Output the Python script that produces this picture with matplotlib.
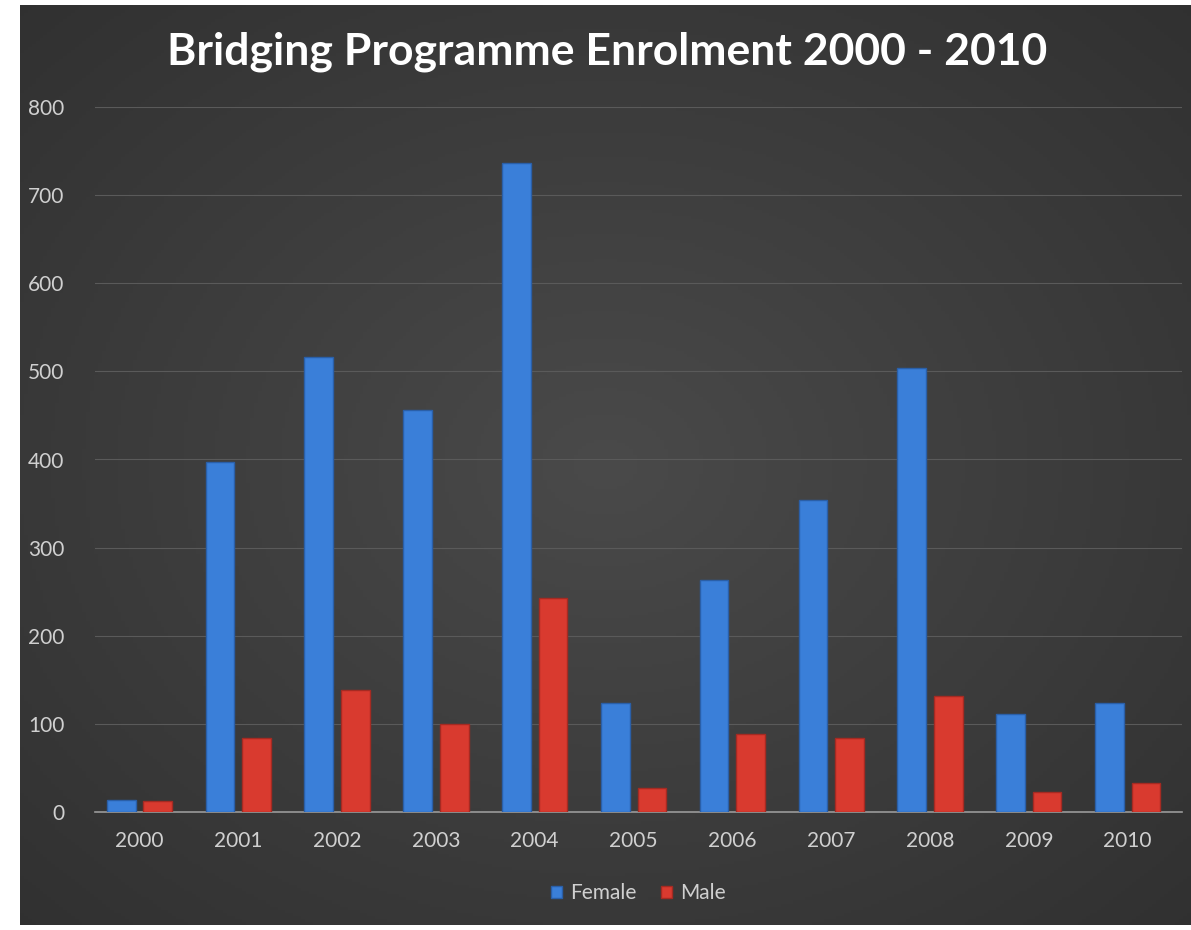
import matplotlib.pyplot as plt
import numpy as np

years = ["2000", "2001", "2002", "2003", "2004", "2005", "2006", "2007", "2008", "2009", "2010"]
female = [14, 397, 516, 456, 737, 124, 263, 354, 504, 111, 124]
male = [12, 84, 138, 100, 243, 27, 88, 84, 132, 23, 33]
yticks = [0, 100, 200, 300, 400, 500, 600, 700, 800]

plt.rcParams['font.family'] = ['Lato', 'DejaVu Sans']

W, H = 1191, 930
fig = plt.figure(figsize=(W / 100, H / 100), dpi=100)
fig.patch.set_facecolor("white")

# dark panel with soft radial gradient
bg = fig.add_axes([20 / W, 5 / H, (W - 20) / W, 920 / H])
yy, xx = np.mgrid[-1:1:300j, -1:1:300j]
r = np.sqrt(xx ** 2 + yy ** 2)
grad = np.clip(0.29 - 0.07 * r, 0, 1)
bg.imshow(np.dstack([grad, grad, grad]), aspect="auto", extent=[0, 1, 0, 1])
bg.set_axis_off()

ax = fig.add_axes([95 / W, (H - 812) / H, 1087 / W, 705 / H])
ax.set_facecolor("none")
x = np.arange(len(years))
w = 0.29
off = 0.185
ax.bar(x - off, female, w, color="#3a7fd9", edgecolor="#2a5fa8", linewidth=1.0, zorder=3, label="Female")
ax.bar(x + off, male, w, color="#d93a2f", edgecolor="#a52a22", linewidth=1.0, zorder=3, label="Male")

ax.set_xlim(-0.45, 10.55)
ax.set_ylim(0, 800)
ax.set_yticks(yticks)
ax.set_xticks(x)
ax.set_xticklabels(years)
ax.tick_params(colors="#d0d0d0", labelsize=15, length=0)
ax.tick_params(axis="x", pad=14)
ax.tick_params(axis="y", pad=22)
ax.grid(axis="y", color="#5a5a5a", linewidth=0.8, zorder=0)
for s in ["top", "right", "left"]:
    ax.spines[s].set_visible(False)
ax.spines["bottom"].set_color("#9a9a9a")
ax.spines["bottom"].set_linewidth(1.2)

fig.text(0.51, (H - 52) / H, "Bridging Programme Enrolment 2000 - 2010", ha="center", va="center",
         color="white", fontsize=32, fontweight="bold")

leg = ax.legend(loc="center", bbox_to_anchor=(0.5, -0.115), ncol=2, frameon=False,
                fontsize=15, handlelength=0.5, handleheight=0.5, handletextpad=0.4, columnspacing=1.2)
for t in leg.get_texts():
    t.set_color("#d0d0d0")

fig.savefig("out.png", dpi=100, facecolor=fig.get_facecolor())
